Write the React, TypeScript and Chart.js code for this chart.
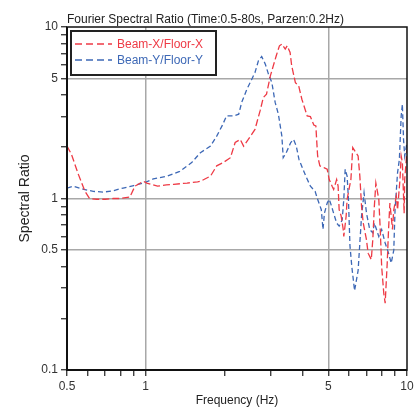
import React, { useEffect, useRef } from "react";
import { Chart, registerables } from "chart.js";

Chart.register(...registerables);

const titleText = "Fourier Spectral Ratio (Time:0.5-80s, Parzen:0.2Hz)";
const xTitle = "Frequency (Hz)";
const yTitle = "Spectral Ratio";
const seriesNames = ["Beam-X/Floor-X", "Beam-Y/Floor-Y"];
const seriesColors = ["#ee3a45", "#3d68b6"];

const xTicks = [0.5, 0.6, 0.7, 0.8, 0.9, 1, 2, 3, 4, 5, 6, 7, 8, 9, 10];
const xLabels = [0.5, 1, 5, 10];
const xGrid = [1, 5];
const yTicks = [0.1, 0.2, 0.3, 0.4, 0.5, 0.6, 0.7, 0.8, 0.9, 1, 2, 3, 4, 5, 6, 7, 8, 9, 10];
const yLabels = [0.1, 0.5, 1, 5, 10];
const yGrid = [0.5, 1, 5];

const freqX = [
  0.5, 0.52, 0.55, 0.586, 0.61, 0.65, 0.7, 0.75, 0.8, 0.87, 0.91, 0.98, 1.01, 1.11, 1.2, 1.28,
  1.44, 1.58, 1.62, 1.77, 1.87, 1.98, 2.11, 2.2, 2.3, 2.37, 2.47, 2.62, 2.74, 2.82, 2.9, 3.0,
  3.08, 3.16, 3.25, 3.32, 3.42, 3.48, 3.57, 3.62, 3.74, 3.85, 3.96, 4.15, 4.27, 4.4, 4.48, 4.51,
  4.55, 4.64, 4.83, 4.95, 5.04, 5.17, 5.24, 5.38, 5.45, 5.5, 5.6, 5.7, 5.73, 5.85, 5.9, 6.1,
  6.2, 6.5, 6.6, 6.7, 6.8, 6.99, 7.1, 7.3, 7.4, 7.5, 7.6, 7.8, 7.9, 8.0, 8.15, 8.25, 8.4, 8.5,
  8.6, 8.7, 8.8, 8.9, 9.1, 9.2, 9.4, 9.5, 9.6, 9.75, 9.8, 10,
];
const ratioX = [
  2.02, 1.81, 1.41, 1.1, 1.0, 0.99, 0.99, 1.0, 1.0, 1.02, 1.18, 1.26, 1.23, 1.18, 1.2, 1.21,
  1.23, 1.25, 1.26, 1.35, 1.55, 1.62, 1.73, 2.12, 2.21, 2.02, 2.21, 2.53, 3.24, 3.88, 4.06, 5.19,
  5.95, 6.8, 7.77, 7.95, 7.43, 7.77, 7.1, 5.95, 4.74, 4.54, 3.79, 3.03, 3.0, 2.68, 2.65, 2.21,
  1.77, 1.55, 1.51, 1.48, 1.29, 1.18, 1.13, 1.29, 1.18, 0.86, 0.79, 0.66, 0.6, 0.79, 0.99, 1.29,
  1.98, 1.77, 1.35, 0.9, 0.72, 0.58, 0.48, 0.44, 0.58, 0.9, 1.23, 0.99, 0.66, 0.4, 0.28, 0.245, 0.42, 0.66,
  0.94, 0.79, 0.66, 0.86, 1.03, 0.86, 1.29, 1.77, 1.62, 0.82, 1.29, 1.93,
];

const freqY = [
  0.5, 0.53, 0.58, 0.63, 0.69, 0.75, 0.82, 0.9, 0.98, 1.07, 1.21, 1.35, 1.5, 1.62, 1.77, 1.87,
  1.96, 2.04, 2.17, 2.27, 2.33, 2.44, 2.55, 2.62, 2.7, 2.78, 2.87, 2.95, 3.04, 3.13, 3.22, 3.32,
  3.36, 3.45, 3.59, 3.68, 3.77, 3.86, 4.1, 4.27, 4.45, 4.55, 4.7, 4.77, 4.83, 4.95, 5.04, 5.1,
  5.24, 5.38, 5.5, 5.65, 5.73, 5.8, 5.9, 5.97, 6.05, 6.15, 6.3, 6.5, 6.6, 6.7, 6.85, 7.0,
  7.2, 7.4, 7.5, 7.8, 8.0, 8.25, 8.5, 8.7, 8.9, 9.0, 9.2, 9.35, 9.5, 9.6, 9.7, 9.8, 10,
];
const ratioY = [
  1.15, 1.18, 1.13, 1.1, 1.09, 1.11, 1.15, 1.19, 1.23, 1.3, 1.35, 1.44, 1.62, 1.85, 2.02, 2.31,
  2.65, 3.03, 3.03, 3.1, 3.63, 4.34, 4.97, 5.43, 6.35, 6.73, 6.07, 5.31, 4.74, 3.63, 3.1, 2.31,
  1.73, 1.85, 2.12, 2.21, 2.02, 1.69, 1.35, 1.18, 1.1, 0.99, 0.86, 0.66, 0.82, 0.94, 0.99, 0.94,
  0.82, 0.72, 0.69, 0.75, 0.99, 1.48, 1.35, 0.99, 0.53, 0.4, 0.29, 0.38, 0.55, 0.79, 1.08, 0.82,
  0.66, 0.63, 0.72, 0.6, 0.66, 0.55, 0.48, 0.42, 0.5, 0.86, 1.41, 1.69, 3.03, 3.55, 2.21, 1.77, 2.12,
];

const FONT = "'Liberation Sans', Arial, sans-serif";

const decorPlugin = {
  id: "decor",
  afterDatasetsDraw(chart: any) {
    const { ctx, chartArea } = chart;
    const { left, right, top, bottom } = chartArea;
    ctx.save();
    // frame
    ctx.strokeStyle = "#111";
    ctx.lineWidth = 1.5;
    ctx.strokeRect(left, top, right - left, bottom - top);
    ctx.lineWidth = 2;
    ctx.beginPath();
    ctx.moveTo(left, top);
    ctx.lineTo(left, bottom);
    ctx.lineTo(right, bottom);
    ctx.stroke();

    // title
    ctx.fillStyle = "#222";
    ctx.font = `12px ${FONT}`;
    ctx.textAlign = "left";
    ctx.textBaseline = "alphabetic";
    ctx.fillText(titleText, left, top - 4);

    // x title
    ctx.textAlign = "center";
    ctx.fillText(xTitle, (left + right) / 2, 404);

    // y title
    ctx.save();
    ctx.translate(29, (top + bottom) / 2);
    ctx.rotate(-Math.PI / 2);
    ctx.font = `14px ${FONT}`;
    ctx.textAlign = "center";
    ctx.fillText(yTitle, 0, 0);
    ctx.restore();

    // legend
    const bx = left + 4, by = top + 4, bw = 145, bh = 44;
    ctx.fillStyle = "#fff";
    ctx.fillRect(bx, by, bw, bh);
    ctx.strokeStyle = "#222";
    ctx.lineWidth = 2;
    ctx.strokeRect(bx, by, bw, bh);
    const rows = [by + 13, by + 29];
    seriesNames.forEach((name, i) => {
      ctx.strokeStyle = seriesColors[i];
      ctx.lineWidth = 1.3;
      ctx.setLineDash([7, 4]);
      ctx.beginPath();
      ctx.moveTo(bx + 4, rows[i]);
      ctx.lineTo(bx + 41, rows[i]);
      ctx.stroke();
      ctx.setLineDash([]);
      ctx.fillStyle = seriesColors[i];
      ctx.font = `12px ${FONT}`;
      ctx.textAlign = "left";
      ctx.textBaseline = "middle";
      ctx.fillText(name, bx + 46, rows[i] + 1);
    });
    ctx.restore();
  },
};

export default function App() {
  const ref = useRef<HTMLCanvasElement | null>(null);
  useEffect(() => {
    document.body.style.margin = "0";
    const canvas = ref.current;
    if (!canvas) return;
    const chart = new Chart(canvas, {
      type: "scatter",
      data: {
        datasets: [
          {
            label: seriesNames[0],
            data: freqX.map((f, i) => ({ x: f, y: ratioX[i] })),
            showLine: true,
            borderColor: seriesColors[0],
            borderWidth: 1.3,
            borderDash: [7, 3],
            pointRadius: 0,
            tension: 0,
          },
          {
            label: seriesNames[1],
            data: freqY.map((f, i) => ({ x: f, y: ratioY[i] })),
            showLine: true,
            borderColor: seriesColors[1],
            borderWidth: 1.3,
            borderDash: [5, 3],
            pointRadius: 0,
            tension: 0,
          },
        ],
      },
      options: {
        animation: false,
        responsive: false,
        layout: { padding: { left: 0, top: 27, right: 10, bottom: 0 } },
        plugins: {
          legend: { display: false },
          title: { display: false },
          tooltip: { enabled: false },
        },
        scales: {
          x: {
            type: "logarithmic",
            min: 0.5,
            max: 10,
            afterBuildTicks: (s: any) => {
              s.ticks = xTicks.map((v) => ({ value: v }));
            },
            afterFit: (s: any) => {
              s.height = 40;
            },
            border: { display: false },
            grid: {
              color: (c: any) => (xGrid.includes(c.tick?.value) ? "#a8a8a8" : "rgba(0,0,0,0)"),
              lineWidth: 1.5,
              tickColor: "#222",
              tickLength: 6,
              tickWidth: 1.2,
            },
            ticks: {
              autoSkip: false,
              maxRotation: 0,
              padding: 3,
              color: "#333",
              font: { family: FONT, size: 12 },
              callback: (v: any) => (xLabels.includes(Number(v)) ? String(v) : ""),
            },
          },
          y: {
            type: "logarithmic",
            min: 0.1,
            max: 10,
            afterBuildTicks: (s: any) => {
              s.ticks = yTicks.map((v) => ({ value: v }));
            },
            afterFit: (s: any) => {
              s.width = 67;
            },
            border: { display: false },
            grid: {
              color: (c: any) => (yGrid.includes(c.tick?.value) ? "#a8a8a8" : "rgba(0,0,0,0)"),
              lineWidth: 1.5,
              tickColor: "#222",
              tickLength: 6,
              tickWidth: 1.2,
            },
            ticks: {
              autoSkip: false,
              padding: 3,
              color: "#333",
              font: { family: FONT, size: 12 },
              callback: (v: any) => (yLabels.includes(Number(v)) ? String(v) : ""),
            },
          },
        },
      },
      plugins: [decorPlugin],
    } as any);
    return () => chart.destroy();
  }, []);
  return (
    <div style={{ position: "absolute", left: 0, top: 0, width: 417, height: 410 }}>
      <canvas ref={ref} width={417} height={410} style={{ width: 417, height: 410 }} />
    </div>
  );
}
